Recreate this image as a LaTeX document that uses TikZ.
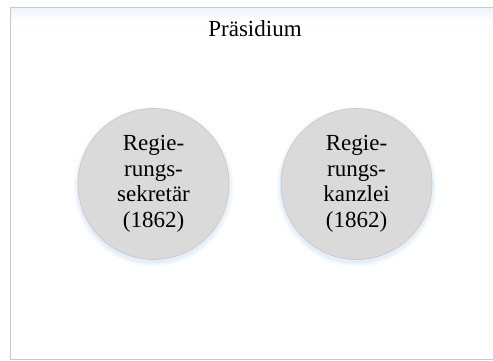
\documentclass[tikz,border=0pt]{standalone}
\usepackage{fontspec}
\setmainfont{Liberation Serif}
\definecolor{framecol}{HTML}{C8C8C8}
\definecolor{circfill}{HTML}{DADADA}
\definecolor{circline}{HTML}{C6C6C6}
\definecolor{glow}{HTML}{BDD7EE}
\definecolor{topglow}{HTML}{EDF4FA}
\tikzset{
  circ/.style={circle, fill=circfill, draw=circline, line width=0.6pt,
    minimum size=151pt, inner sep=0pt, align=center,
    font=\fontsize{23}{25.5}\selectfont},
  titletext/.style={font=\fontsize{23}{26}\selectfont, inner sep=0pt}
}
\begin{document}
\begin{tikzpicture}[x=1pt,y=-1pt]
\useasboundingbox (0,0) rectangle (493,361);
\shade[top color=topglow, bottom color=white] (10.5,8) rectangle (493,22);
\draw[framecol, line width=0.8pt] (493,7.5) -- (10.5,7.5) -- (10.5,359.8) -- (493,359.8);
\foreach \r/\o in {80/0.10,78.5/0.15,77/0.2}{
  \fill[glow, opacity=\o] (153.5,186.5) circle (\r);
  \fill[glow, opacity=\o] (356.5,186.5) circle (\r);
}
\node[titletext] (t) at (255,29) {Präsidium};
\node[circ] (a) at (153.5,184) {Regie-\\rungs-\\sekretär\\(1862)};
\node[circ] (b) at (356.5,184) {Regie-\\rungs-\\kanzlei\\(1862)};
\end{tikzpicture}
\end{document}
